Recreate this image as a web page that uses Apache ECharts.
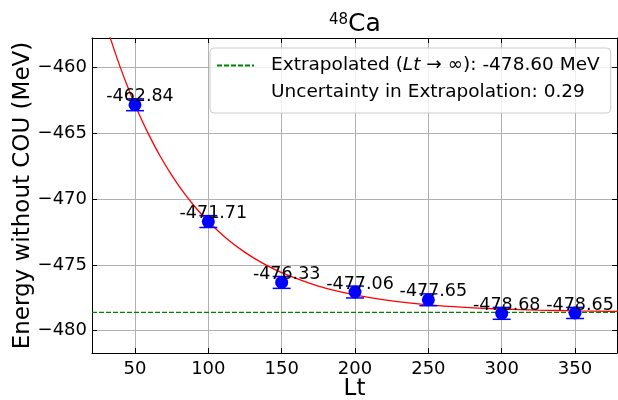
<!DOCTYPE html>
<html>
<head>
<meta charset="utf-8">
<script src="https://cdn.jsdelivr.net/npm/echarts@6/dist/echarts.min.js"></script>
<style>
  html, body { margin: 0; padding: 0; background: #fff; }
  #chart { width: 618px; height: 400px; }
</style>
</head>
<body>
<div id="chart"></div>
<script>
// Truncation length Lt and the computed energies (MeV)
const lt = [50, 100, 150, 200, 250, 300, 350];
const energy = [-462.84, -471.71, -476.33, -477.06, -477.65, -478.68, -478.65];
const errors = [0.45, 0.45, 0.45, 0.45, 0.45, 0.45, 0.42];

// Exponential fit curve, sampled along Lt
const fitLt = [30, 36, 40, 45, 50, 55, 60, 67, 75, 82, 90, 100, 112, 125, 137, 150, 175, 200, 225, 250, 275, 300, 325, 350, 380];
const fitE = [-456.66, -458.73, -460.00, -461.48, -462.84, -464.09, -465.24, -466.71, -468.18, -469.32, -470.47, -471.71,
              -472.95, -474.05, -474.87, -475.59, -476.61, -477.28, -477.73, -478.03, -478.22, -478.35, -478.43, -478.49, -478.54];

// Extrapolated value and its uncertainty
const extrapolated = -478.60;
const uncertainty = 0.29;

// Axis limits
const xLim = [20.7, 378.6];
const yLim = [-481.69, -457.77];

const FONT = 'DejaVu Sans';
const extName = 'Extrapolated (Lt \u2192 \u221e): ' + extrapolated.toFixed(2) + ' MeV';
const uncName = 'Uncertainty in Extrapolation: ' + uncertainty.toFixed(2);

const chart = echarts.init(document.getElementById('chart'), null, { renderer: 'canvas' });

const minusFmt = v => String(v).replace('-', '\u2212');

function baseX(extra) {
  return Object.assign({
    type: 'value', min: xLim[0], max: xLim[1], splitNumber: 7,
    axisLine: { show: true, onZero: false, lineStyle: { color: '#000', width: 1 } },
    axisTick: { show: true, inside: true, length: 5, lineStyle: { color: '#000', width: 1 } },
    splitLine: { show: false }
  }, extra);
}
function baseY(extra) {
  return Object.assign({
    type: 'value', min: yLim[0], max: yLim[1], splitNumber: 5,
    axisLine: { show: true, onZero: false, lineStyle: { color: '#000', width: 1 } },
    axisTick: { show: true, inside: true, length: 5, lineStyle: { color: '#000', width: 1 } },
    splitLine: { show: false }
  }, extra);
}

const errData = lt.map((x, i) => [x, energy[i], errors[i]]);
const ptData = lt.map((x, i) => [x, energy[i]]);
const fitData = fitLt.map((x, i) => [x, fitE[i]]);

chart.setOption({
  animation: false,
  grid: { left: 92, right: 1, top: 38, bottom: 47, containLabel: false, outerBoundsMode: 'none' },
  graphic: [
    { type: 'text', left: 329, top: 13, style: { text: '48', font: '15px "DejaVu Sans"', fill: '#000' } },
    { type: 'text', left: 348, top: 12, style: { text: 'Ca', font: '25px "DejaVu Sans"', fill: '#000' } }
  ],
  legend: {
    orient: 'vertical', left: 210, top: 48,
    itemWidth: 37, itemHeight: 14, itemGap: 8,
    padding: [8, 11, 11, 6],
    backgroundColor: 'rgba(255,255,255,0.8)', borderColor: '#cccccc', borderWidth: 1, borderRadius: 4,
    textStyle: {
      fontFamily: FONT, fontSize: 18.5, color: '#000', padding: [0, 0, 0, 12],
      rich: {
        n: { fontFamily: FONT, fontSize: 18.5, color: '#000' },
        i: { fontFamily: FONT, fontSize: 18.5, color: '#000', fontStyle: 'italic' }
      }
    },
    formatter: name => name === extName
      ? '{n|Extrapolated (}{i|Lt}{n| \u2192 \u221e): ' + extrapolated.toFixed(2) + ' MeV}'
      : '{n|' + name + '}',
    data: [
      { name: extName, itemStyle: { opacity: 0 } },
      { name: uncName, itemStyle: { opacity: 0 }, lineStyle: { opacity: 0 } }
    ]
  },
  xAxis: [
    baseX({
      position: 'bottom',
      name: 'Lt', nameLocation: 'middle', nameGap: 25, nameMoveOverlap: false,
      nameTextStyle: { fontFamily: FONT, fontSize: 23, color: '#000' },
      axisLabel: { show: true, margin: 7, fontFamily: FONT, fontSize: 18, color: '#000',
        showMinLabel: false, showMaxLabel: false,
        formatter: v => (Math.abs(v % 50) < 1e-6 ? minusFmt(v) : '') },
      splitLine: { show: true, lineStyle: { color: '#b0b0b0', width: 1 } }
    }),
    baseX({ position: 'top', axisLabel: { show: false } })
  ],
  yAxis: [
    baseY({
      position: 'left',
      name: 'Energy without COU (MeV)', nameLocation: 'middle', nameGap: 57, nameMoveOverlap: false,
      nameTextStyle: { fontFamily: FONT, fontSize: 23, color: '#000' },
      axisLabel: { show: true, margin: 5, fontFamily: FONT, fontSize: 18, color: '#000',
        showMinLabel: false, showMaxLabel: false,
        formatter: v => (Math.abs(v % 5) < 1e-6 ? minusFmt(v) : '') },
      splitLine: { show: true, lineStyle: { color: '#b0b0b0', width: 1 } }
    }),
    baseY({ position: 'right', axisLabel: { show: false } })
  ],
  series: [
    {
      name: 'fit', type: 'line', data: fitData, smooth: 0.3, showSymbol: false, symbol: 'none',
      lineStyle: { color: '#ff0000', width: 1.3 }, clip: true, z: 2, silent: true
    },
    {
      name: extName, type: 'line', data: [[xLim[0], extrapolated], [xLim[1], extrapolated]],
      showSymbol: false, symbol: 'none', color: '#008000',
      lineStyle: { color: '#008000', width: 1.3, type: [5, 2] }, z: 3, silent: true
    },
    { name: uncName, type: 'line', data: [], symbol: 'none', color: '#ffffff', lineStyle: { opacity: 0 } },
    {
      name: 'err', type: 'custom', data: errData, z: 4, silent: true,
      renderItem: (params, api) => {
        const x = api.value(0), y = api.value(1), e = api.value(2);
        const top = api.coord([x, y + e]);
        const bot = api.coord([x, y - e]);
        const hw = 9;
        const st = { stroke: '#0000ff', lineWidth: 1.5 };
        return {
          type: 'group',
          children: [
            { type: 'line', shape: { x1: top[0], y1: top[1], x2: bot[0], y2: bot[1] }, style: st },
            { type: 'line', shape: { x1: top[0] - hw, y1: top[1], x2: top[0] + hw, y2: top[1] }, style: st },
            { type: 'line', shape: { x1: bot[0] - hw, y1: bot[1], x2: bot[0] + hw, y2: bot[1] }, style: st }
          ]
        };
      }
    },
    {
      name: 'points', type: 'scatter', data: ptData, symbol: 'circle', symbolSize: 13, z: 5, silent: true,
      itemStyle: { color: '#0000ff', opacity: 1 },
      label: {
        show: true, position: 'inside', offset: [5, -8],
        fontFamily: FONT, fontSize: 17.5, color: '#000',
        formatter: p => p.value[1].toFixed(2)
      }
    }
  ]
});
</script>
</body>
</html>
